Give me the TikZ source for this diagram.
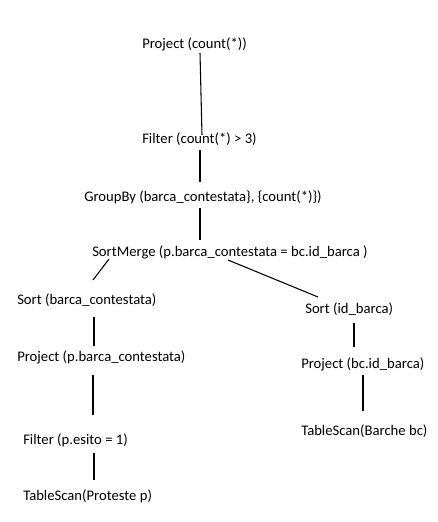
\documentclass[tikz,border=0pt]{standalone}
\usepackage{fontspec}
\setmainfont{Carlito}
\usepackage{tikz}
\usetikzlibrary{calc}
\tikzset{
  op/.style={anchor=west, inner sep=0pt, font=\fontsize{11pt}{13pt}\selectfont},
  edge/.style={line width=0.8pt},
}

\begin{document}
\begin{tikzpicture}[x=0.75pt, y=-0.75pt]
  \useasboundingbox (0,0) rectangle (438,522);
  % operatori del piano
  \node[op] (pc)  at (142,44)  {Project (count(*))};
  \node[op] (flt) at (142,139) {Filter (count(*) > 3)};
  \node[op] (gb)  at (84,197)  {GroupBy (barca\_contestata\}, \{count(*)\})};
  \node[op] (sm)  at (92,252)  {SortMerge (p.barca\_contestata = bc.id\_barca )};
  \node[op] (sl)  at (17,300)  {Sort (barca\_contestata)};
  \node[op] (sr)  at (305,309) {Sort (id\_barca)};
  \node[op] (pl)  at (17,357)  {Project (p.barca\_contestata)};
  \node[op] (pr)  at (301,364) {Project (bc.id\_barca)};
  \node[op] (fl)  at (23,440)  {Filter (p.esito = 1)};
  \node[op] (tr)  at (301,431) {TableScan(Barche bc)};
  \node[op] (tl)  at (23,496)  {TableScan(Proteste p)};
  % archi
  \draw[edge] ($(pc.west)+(58,9)$)   -- ($(flt.west)+(60,-4)$);
  \draw[edge] ($(flt.west)+(58,11)$) -- ($(gb.west)+(116,-15)$);
  \draw[edge] ($(gb.west)+(116,11)$) -- ($(sm.west)+(108,-12)$);
  \draw[edge] ($(sm.west)+(17,7)$)   -- ($(sl.west)+(76,-20)$);
  \draw[edge] ($(sm.west)+(136,8)$)  -- ($(sr.west)+(13,-12)$);
  \draw[edge] ($(sl.west)+(77,17)$)  -- ($(pl.west)+(77,-11)$);
  \draw[edge] ($(sr.west)+(49,14)$)  -- ($(pr.west)+(53,-17)$);
  \draw[edge] ($(pl.west)+(76,18)$)  -- ($(fl.west)+(70,-25)$);
  \draw[edge] ($(pr.west)+(62,11)$)  -- ($(tr.west)+(62,-20)$);
  \draw[edge] ($(fl.west)+(71,13)$)  -- ($(tl.west)+(71,-16)$);
\end{tikzpicture}
\end{document}
